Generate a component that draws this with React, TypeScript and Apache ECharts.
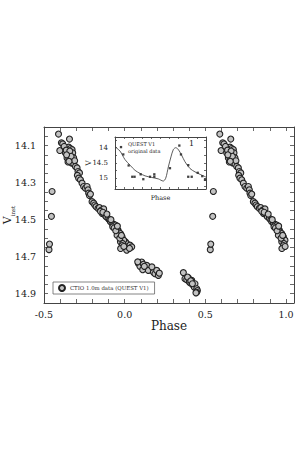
import React, { useEffect, useRef } from "react";
import * as echarts from "echarts";

// Main light curve: phase in [0,1) and V_inst magnitude (points with phase >= 0.5 are also shown at phase - 1)
const mainPhase: number[] = [
  0.005, 0.013, 0.013, 0.022, 0.033, 0.044, 0.03,
  0.085, 0.106, 0.095, 0.116, 0.126, 0.112, 0.137, 0.147, 0.178, 0.188, 0.199, 0.209, 0.215, 0.081, 0.122, 0.169,
  0.364, 0.374, 0.385, 0.395, 0.401, 0.41, 0.416, 0.426, 0.432, 0.436, 0.447, 0.451, 0.447, 0.39, 0.41, 0.42, 0.442,
  0.531, 0.534, 0.546, 0.55,
  0.59, 0.658, 0.598, 0.608, 0.616, 0.643, 0.653, 0.664, 0.674, 0.633, 0.649, 0.658, 0.67, 0.678, 0.643, 0.653,
  0.664, 0.674, 0.684, 0.649, 0.67, 0.684, 0.625, 0.638, 0.66, 0.668, 0.69, 0.64, 0.655, 0.695, 0.705, 0.711,
  0.72, 0.707, 0.715, 0.726, 0.736, 0.746, 0.757, 0.767, 0.773, 0.777, 0.782, 0.788, 0.798, 0.808, 0.815, 0.823,
  0.835, 0.844, 0.856, 0.87, 0.86, 0.877, 0.885, 0.897, 0.906, 0.912, 0.922, 0.932, 0.943, 0.926, 0.947, 0.959,
  0.963, 0.974, 0.953, 0.984, 0.994, 0.974, 0.988, 0.85, 0.865, 0.89, 0.915, 0.935, 0.945, 0.955, 0.97, 0.98,
  0.985, 0.975, 0.995,
];
const mainMag: number[] = [
  14.62, 14.629, 14.665, 14.645, 14.638, 14.647, 14.655,
  14.737, 14.729, 14.752, 14.741, 14.756, 14.77, 14.747, 14.774, 14.783, 14.792, 14.774, 14.801, 14.789, 14.728, 14.752, 14.755,
  14.786, 14.819, 14.824, 14.814, 14.837, 14.843, 14.828, 14.855, 14.865, 14.846, 14.873, 14.883, 14.892, 14.81, 14.83, 14.846, 14.895,
  14.662, 14.632, 14.482, 14.348,
  14.038, 14.065, 14.127, 14.085, 14.091, 14.113, 14.109, 14.116, 14.122, 14.14, 14.134, 14.145, 14.153, 14.14, 14.167, 14.164,
  14.176, 14.171, 14.167, 14.189, 14.194, 14.199, 14.105, 14.125, 14.13, 14.158, 14.182, 14.15, 14.185, 14.213, 14.221, 14.24,
  14.248, 14.261, 14.276, 14.285, 14.303, 14.321, 14.33, 14.321, 14.339, 14.357, 14.37, 14.362, 14.403, 14.411, 14.421, 14.43,
  14.439, 14.435, 14.448, 14.442, 14.466, 14.475, 14.484, 14.493, 14.502, 14.511, 14.52, 14.526, 14.529, 14.539, 14.547, 14.557,
  14.566, 14.575, 14.584, 14.593, 14.611, 14.62, 14.629, 14.455, 14.46, 14.47, 14.5, 14.545, 14.56, 14.535, 14.6, 14.585,
  14.64, 14.656, 14.645,
];

// Inset: QUEST V1 original data and template curve
const insetPhase: number[] = [0.066, 0.091, 0.15, 0.19, 0.215, 0.282, 0.311, 0.385, 0.432, 0.432, 0.604, 0.707, 0.725, 0.805, 0.805, 0.843, 0.909, 0.959, 0.989];
const insetMag: number[] = [13.98, 14.22, 14.58, 14.95, 14.95, 14.87, 15.03, 14.95, 14.87, 14.95, 14.67, 13.93, 14.22, 14.57, 14.95, 14.95, 14.82, 14.93, 15.05];
const curvePhase: number[] = [0.0, 0.055, 0.11, 0.165, 0.22, 0.275, 0.33, 0.4, 0.476, 0.53, 0.557, 0.586, 0.615, 0.641, 0.667, 0.696, 0.733, 0.769, 0.824, 0.879, 0.934, 1.0];
const curveMag: number[] = [13.97, 14.11, 14.39, 14.57, 14.74, 14.84, 14.92, 14.97, 15.02, 15.09, 15.0, 14.63, 14.3, 14.06, 14.0, 14.06, 14.25, 14.46, 14.68, 14.79, 14.87, 14.96];

const mainTicksX = { min: -0.5, max: 1.05, interval: 0.1 };
const mainTicksY = { min: 14.0, max: 14.95, interval: 0.05 };
const insetYLabels: number[] = [14, 14.5, 15];
const insetYTicks: number[] = [13.75, 14, 14.25, 14.5, 14.75, 15, 15.25];

const LEGEND_NAME = "CTIO 1.0m data (QUEST V1)";
const FONT = "DejaVu Serif";

export default function App() {
  const ref = useRef<HTMLDivElement>(null);
  useEffect(() => {
    if (!ref.current) return;
    const chart = echarts.init(ref.current, undefined, { renderer: "svg" });

    const mainData: number[][] = [];
    mainPhase.forEach((p, i) => {
      mainData.push([p, mainMag[i]]);
      if (p >= 0.5) mainData.push([p - 1, mainMag[i]]);
    });
    const insetData = insetPhase.map((p, i) => [p, insetMag[i]]);
    const curveData = curvePhase.map((p, i) => [p, curveMag[i]]);

    const lineC = "#444";
    const axisLine = { show: true, onZero: false, lineStyle: { color: lineC, width: 1 } };
    const tick = (len: number) => ({ show: true, inside: true, length: len, lineStyle: { color: lineC, width: 0.8 } });

    const fmtX = (v: number) => {
      const k = Math.round(v * 10);
      if (Math.abs(v * 10 - k) > 1e-6 || k % 5 !== 0) return "";
      return v.toFixed(1);
    };
    const fmtY = (v: number) => {
      const k = Math.round(v * 100);
      if (Math.abs(v * 100 - k) > 1e-6 || k % 20 !== 10) return "";
      return v.toFixed(1);
    };

    chart.setOption({
      animation: false,
      textStyle: { fontFamily: FONT },
      grid: [
        { left: 44, right: 4, top: 127, bottom: 152, containLabel: false, outerBoundsMode: "none" },
        { left: 115, top: 137, width: 91, height: 52, show: true, backgroundColor: "#fff", borderWidth: 0, containLabel: false, outerBoundsMode: "none" },
      ],
      legend: {
        data: [LEGEND_NAME],
        left: 53,
        top: 282,
        icon: "circle",
        itemWidth: 6,
        itemHeight: 6,
        padding: [2, 6, 2, 5],
        borderColor: "#666",
        borderWidth: 0.8,
        backgroundColor: "#fff",
        textStyle: { fontSize: 5.4, color: "#333", fontFamily: FONT },
      },
      xAxis: [
        {
          type: "value", gridIndex: 0, ...mainTicksX,
          axisLine, axisTick: tick(4), splitLine: { show: false },
          axisLabel: { formatter: fmtX, fontSize: 9.5, color: "#222", margin: 6, fontFamily: FONT },
          name: "Phase", nameLocation: "middle", nameGap: 15,
          nameTextStyle: { fontSize: 12, color: "#222", fontFamily: FONT },
        },
        {
          type: "value", gridIndex: 0, position: "top", ...mainTicksX,
          axisLine, axisTick: tick(4), splitLine: { show: false }, axisLabel: { show: false },
        },
        {
          type: "value", gridIndex: 1, min: 0, max: 1, interval: 0.1,
          axisLine, axisTick: tick(2), splitLine: { show: false }, axisLabel: { show: false },
          name: "Phase", nameLocation: "middle", nameGap: 5,
          nameTextStyle: { fontSize: 6.5, color: "#222", fontFamily: FONT },
        },
        {
          type: "value", gridIndex: 1, position: "top", min: 0, max: 1, interval: 0.1,
          axisLine, axisTick: tick(2), splitLine: { show: false }, axisLabel: { show: false },
        },
      ],
      yAxis: [
        {
          type: "value", gridIndex: 0, inverse: true, ...mainTicksY,
          axisLine, axisTick: tick(4), splitLine: { show: false },
          axisLabel: { formatter: fmtY, fontSize: 9.5, color: "#222", margin: 8, fontFamily: FONT },
          name: "{v|V}{s|inst}", nameLocation: "middle", nameGap: 28, nameRotate: 90, nameMoveOverlap: false,
          nameTextStyle: {
            fontFamily: FONT, color: "#222",
            rich: {
              v: { fontSize: 11, fontFamily: FONT, color: "#222", lineHeight: 14, verticalAlign: "top" },
              s: { fontSize: 5.5, fontFamily: FONT, color: "#222", lineHeight: 14, verticalAlign: "bottom", padding: [6, 0, 0, 0] },
            },
          },
        },
        {
          type: "value", gridIndex: 0, position: "right", inverse: true, ...mainTicksY,
          axisLine, axisTick: tick(4), splitLine: { show: false }, axisLabel: { show: false },
        },
        {
          type: "value", gridIndex: 1, inverse: true, min: 13.65, max: 15.35,
          axisLine, splitLine: { show: false },
          axisTick: { ...tick(2), customValues: insetYTicks },
          axisLabel: { customValues: insetYLabels, formatter: (v: number) => String(v), fontSize: 7, color: "#222", margin: 7, fontFamily: FONT },
          name: "V", nameLocation: "middle", nameGap: 23, nameRotate: 90, nameMoveOverlap: false,
          nameTextStyle: { fontSize: 7.5, color: "#222", fontFamily: FONT },
        },
        {
          type: "value", gridIndex: 1, position: "right", inverse: true, min: 13.65, max: 15.35,
          axisLine, splitLine: { show: false }, axisLabel: { show: false },
          axisTick: { ...tick(2), customValues: insetYTicks },
        },
      ],
      series: [
        {
          name: LEGEND_NAME, type: "scatter", xAxisIndex: 0, yAxisIndex: 0,
          data: mainData, symbol: "circle", symbolSize: 6,
          itemStyle: { color: "#c2c2c2", borderColor: "#222", borderWidth: 1.1, opacity: 1 },
        },
        {
          name: "curve", type: "line", xAxisIndex: 2, yAxisIndex: 2,
          data: curveData, smooth: 0.3, showSymbol: false,
          lineStyle: { color: "#333", width: 0.8 },
        },
        {
          name: "QUEST V1", type: "scatter", xAxisIndex: 2, yAxisIndex: 2,
          data: insetData, symbol: "rect", symbolSize: 2.3,
          itemStyle: { color: "#111" },
        },
      ],
      graphic: [
        { type: "text", x: 128, y: 141, style: { text: "QUEST V1", font: `5px "${FONT}"`, fill: "#222" } },
        { type: "text", x: 128, y: 148.5, style: { text: "original data", font: `5px "${FONT}"`, fill: "#222" } },
        { type: "text", x: 189, y: 139, style: { text: "1", font: `8px "${FONT}"`, fill: "#222" } },
      ],
    });
    return () => chart.dispose();
  }, []);
  return <div ref={ref} style={{ position: "absolute", left: 0, top: 0, width: 298, height: 455 }} />;
}
